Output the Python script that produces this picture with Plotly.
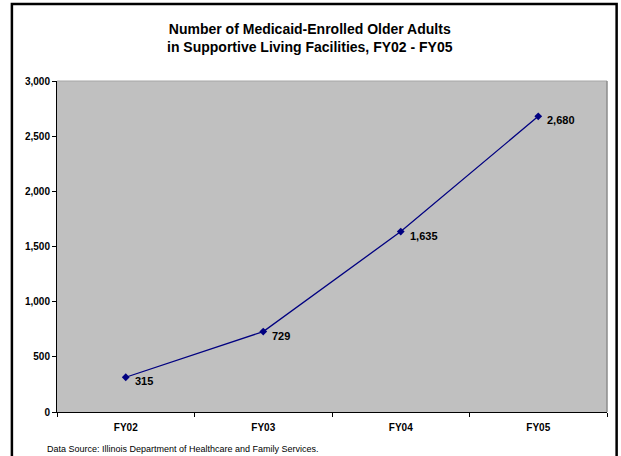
import plotly.graph_objects as go

# Fiscal years and enrollment counts
fiscal_years = ["FY02", "FY03", "FY04", "FY05"]
enrolled = [315, 729, 1635, 2680]
y_ticks = [0, 500, 1000, 1500, 2000, 2500, 3000]

NAVY = "#000080"
FONT = "Liberation Sans, Arial, sans-serif"

fig = go.Figure()
fig.add_trace(go.Scatter(
    x=fiscal_years, y=enrolled, mode="lines+markers",
    line=dict(color=NAVY, width=1.3),
    marker=dict(symbol="diamond", size=6, color=NAVY),
    hoverinfo="skip", showlegend=False,
))

# Value labels beside each point
for fy, v in zip(fiscal_years, enrolled):
    fig.add_annotation(
        x=fy, y=v, text=f"<b>{v:,}</b>", showarrow=False,
        xanchor="left", yanchor="middle", xshift=7, yshift=-4,
        font=dict(family=FONT, size=11, color="#000000"),
    )

# Title and source note
fig.add_annotation(
    xref="paper", yref="paper", x=0.46, y=1.13,
    text="<b>Number of Medicaid-Enrolled Older Adults<br>in Supportive Living Facilities, FY02 - FY05</b>",
    showarrow=False, xanchor="center", yanchor="middle",
    font=dict(family=FONT, size=14, color="#000000"),
)
fig.add_annotation(
    xref="paper", yref="paper", x=-0.021, y=-0.113,
    text="Data Source: Illinois Department of Healthcare and Family Services.",
    showarrow=False, xanchor="left", yanchor="middle",
    font=dict(family=FONT, size=9, color="#000000"),
)

# Outer chart frame
fig.add_shape(
    type="rect", xref="paper", yref="paper",
    x0=-0.082, x1=1.0175, y0=-0.2, y1=1.233,
    line=dict(color="#000000", width=2.5), layer="above",
)
# Light plot-area edges on top and right
fig.add_shape(type="line", xref="paper", yref="paper", x0=0, x1=1, y0=1, y1=1,
              line=dict(color="#A6A6A6", width=1))
fig.add_shape(type="line", xref="paper", yref="paper", x0=1, x1=1, y0=0, y1=1,
              line=dict(color="#8C8C8C", width=1.5))

fig.update_layout(
    width=621, height=456,
    margin=dict(l=57, r=14, t=81, b=44),
    paper_bgcolor="#FFFFFF", plot_bgcolor="#C0C0C0",
    font=dict(family=FONT, size=10, color="#000000"),
    xaxis=dict(
        type="category", range=[-0.5, 3.5], tickson="boundaries",
        ticks="outside", ticklen=4, tickcolor="#000000",
        showline=True, linecolor="#000000", linewidth=1,
        showgrid=False, zeroline=False,
        tickfont=dict(family=FONT, size=10, color="#000000", weight="bold"),
        ticklabelstandoff=6,
    ),
    yaxis=dict(
        range=[0, 3000], tickvals=y_ticks,
        ticktext=[f"{t:,}" for t in y_ticks],
        ticks="outside", ticklen=4, tickcolor="#000000",
        showline=True, linecolor="#000000", linewidth=1,
        showgrid=False, zeroline=False,
        tickfont=dict(family=FONT, size=10, color="#000000", weight="bold"),
    ),
)

fig.write_html("out.html")
